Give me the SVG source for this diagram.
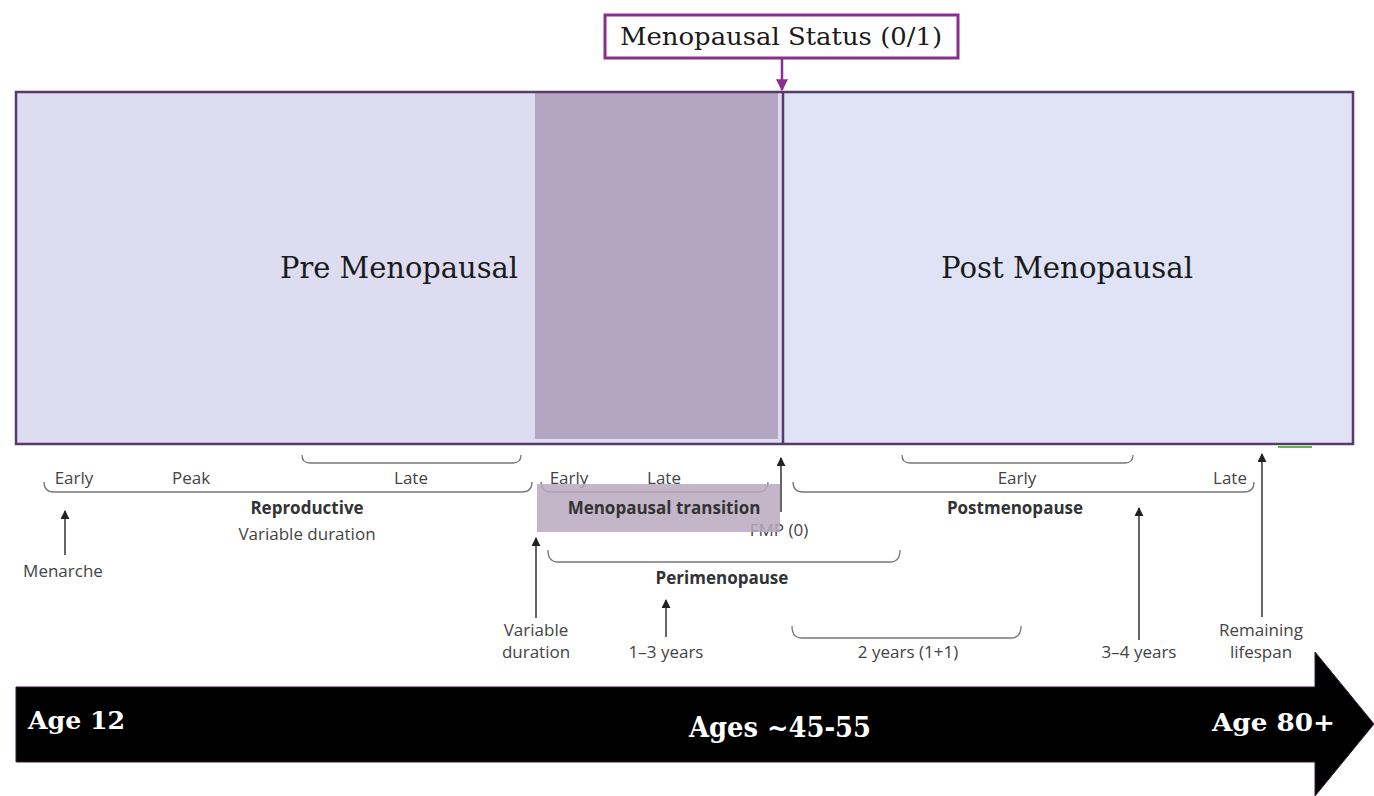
<svg xmlns="http://www.w3.org/2000/svg" width="1374" height="796" viewBox="0 0 1374 796">
<defs>
<marker id="ah" viewBox="0 0 10 10" refX="9" refY="5" markerWidth="9" markerHeight="9" markerUnits="userSpaceOnUse" orient="auto"><path d="M0,0 L10,5 L0,10 z" fill="#222"/></marker>
<marker id="ahp" viewBox="0 0 10 10" refX="9" refY="5" markerWidth="12" markerHeight="12" markerUnits="userSpaceOnUse" orient="auto"><path d="M0,0 L10,5 L0,10 z" fill="#8b2e8f"/></marker>
</defs>
<style>
.big{font-family:"DejaVu Serif","Liberation Serif",serif;fill:#1a1a1a}
.wh{font-family:"DejaVu Serif","Liberation Serif",serif;fill:#fff;font-weight:bold}
.sm{font-family:"Open Sans","Noto Sans",sans-serif;font-size:17px;fill:#444}
.bd{font-family:"Open Sans","Noto Sans",sans-serif;font-size:17px;fill:#333;font-weight:bold}
.br{fill:none;stroke:#777;stroke-width:1.3}
.ar{stroke:#333;stroke-width:1.5;fill:none}
</style>
<rect width="1374" height="796" fill="#fff"/>
<g id="status-box">
<rect x="605" y="15" width="353" height="43" fill="#fff" stroke="#8b2e8f" stroke-width="3"/>
<text class="big" x="781" y="45" font-size="24" text-anchor="middle" textLength="322" lengthAdjust="spacingAndGlyphs">Menopausal Status (0/1)</text>
</g>
<g id="pre-menopausal">
<rect x="16" y="92" width="767" height="352" fill="#dedcf0"/>
<text class="big" x="399" y="278" font-size="29" text-anchor="middle" textLength="238" lengthAdjust="spacingAndGlyphs">Pre Menopausal</text>
</g>
<g id="transition-shade">
<rect x="535" y="92" width="243" height="347" fill="#b4a6c2"/>
</g>
<g id="post-menopausal">
<rect x="783" y="92" width="570" height="352" fill="#dfe3f5"/>
<text class="big" x="1067" y="278" font-size="29" text-anchor="middle" textLength="252" lengthAdjust="spacingAndGlyphs">Post Menopausal</text>
</g>
<g id="main-frame">
<rect x="16" y="92" width="1337" height="352" fill="none" stroke="#5a3a6a" stroke-width="2.5"/>
<line x1="783" y1="92" x2="783" y2="444" stroke="#5a3a6a" stroke-width="2.5"/>
<line x1="1278" y1="447" x2="1312" y2="447" stroke="#6ab04c" stroke-width="2"/>
</g>
<g id="reproductive">
<path class="br" d="M302,455 Q302,463 310,463 L513,463 Q521,463 521,455"/>
<text class="sm" x="74" y="484" text-anchor="middle">Early</text>
<text class="sm" x="191" y="484" text-anchor="middle">Peak</text>
<text class="sm" x="411" y="484" text-anchor="middle">Late</text>
<path class="br" d="M44,482 Q44,492 54,492 L522,492 Q532,492 532,482"/>
<text class="bd" x="307" y="514" text-anchor="middle">Reproductive</text>
<text class="sm" x="307" y="540" text-anchor="middle">Variable duration</text>
<text class="sm" x="63" y="577" text-anchor="middle">Menarche</text>
</g>
<g id="menopausal-transition">
<text class="sm" x="569" y="484" text-anchor="middle">Early</text>
<text class="sm" x="664" y="484" text-anchor="middle">Late</text>
<path class="br" d="M541,482 Q541,492 551,492 L758,492 Q768,492 768,482"/>
<text class="sm" x="779" y="536" text-anchor="middle">FMP (0)</text>
<rect x="537" y="484" width="243" height="48" fill="#b9a9bf" fill-opacity="0.85"/>
<text class="bd" x="664" y="514" text-anchor="middle" fill="#3d3540">Menopausal transition</text>
</g>
<g id="perimenopause">
<path class="br" d="M548,550 Q548,562 558,562 L890,562 Q900,562 900,550"/>
<text class="bd" x="722" y="584" text-anchor="middle">Perimenopause</text>
<text class="sm" x="536" y="636" text-anchor="middle">Variable</text>
<text class="sm" x="536" y="658" text-anchor="middle">duration</text>
<text class="sm" x="666" y="658" text-anchor="middle">1–3 years</text>
</g>
<g id="postmenopause">
<path class="br" d="M902,455 Q902,463 910,463 L1125,463 Q1133,463 1133,455"/>
<text class="sm" x="1017" y="484" text-anchor="middle">Early</text>
<text class="sm" x="1230" y="484" text-anchor="middle">Late</text>
<path class="br" d="M793,482 Q793,492 803,492 L1244,492 Q1254,492 1254,482"/>
<text class="bd" x="1015" y="514" text-anchor="middle">Postmenopause</text>
<path class="br" d="M792,626 Q792,638 802,638 L1011,638 Q1021,638 1021,626"/>
<text class="sm" x="908" y="658" text-anchor="middle">2 years (1+1)</text>
<text class="sm" x="1139" y="658" text-anchor="middle">3–4 years</text>
<text class="sm" x="1261" y="636" text-anchor="middle">Remaining</text>
<text class="sm" x="1261" y="658" text-anchor="middle">lifespan</text>
</g>
<g id="connectors">
<line x1="782" y1="58" x2="782" y2="90" stroke="#8b2e8f" stroke-width="2.5" marker-end="url(#ahp)"/>
<line class="ar" x1="65" y1="555" x2="65" y2="511" marker-end="url(#ah)"/>
<line class="ar" x1="536" y1="618" x2="536" y2="538" marker-end="url(#ah)"/>
<line class="ar" x1="781" y1="512" x2="781" y2="458" marker-end="url(#ah)"/>
<line class="ar" x1="666" y1="637" x2="666" y2="600" marker-end="url(#ah)"/>
<line class="ar" x1="1139" y1="640" x2="1139" y2="508" marker-end="url(#ah)"/>
<line class="ar" x1="1262" y1="617" x2="1262" y2="454" marker-end="url(#ah)"/>
</g>
<g id="timeline">
<path d="M16,687 L1315,687 L1315,652 L1374,724 L1315,796 L1315,762 L16,762 z" fill="#000" stroke="#3a1a3a" stroke-width="1"/>
<text class="wh" x="28" y="729" font-size="25" textLength="97" lengthAdjust="spacingAndGlyphs">Age 12</text>
<text class="wh" x="780" y="737" font-size="28" text-anchor="middle" textLength="182" lengthAdjust="spacingAndGlyphs">Ages ~45-55</text>
<text class="wh" x="1212" y="731" font-size="25" textLength="123" lengthAdjust="spacingAndGlyphs">Age 80+</text>
</g>
</svg>
